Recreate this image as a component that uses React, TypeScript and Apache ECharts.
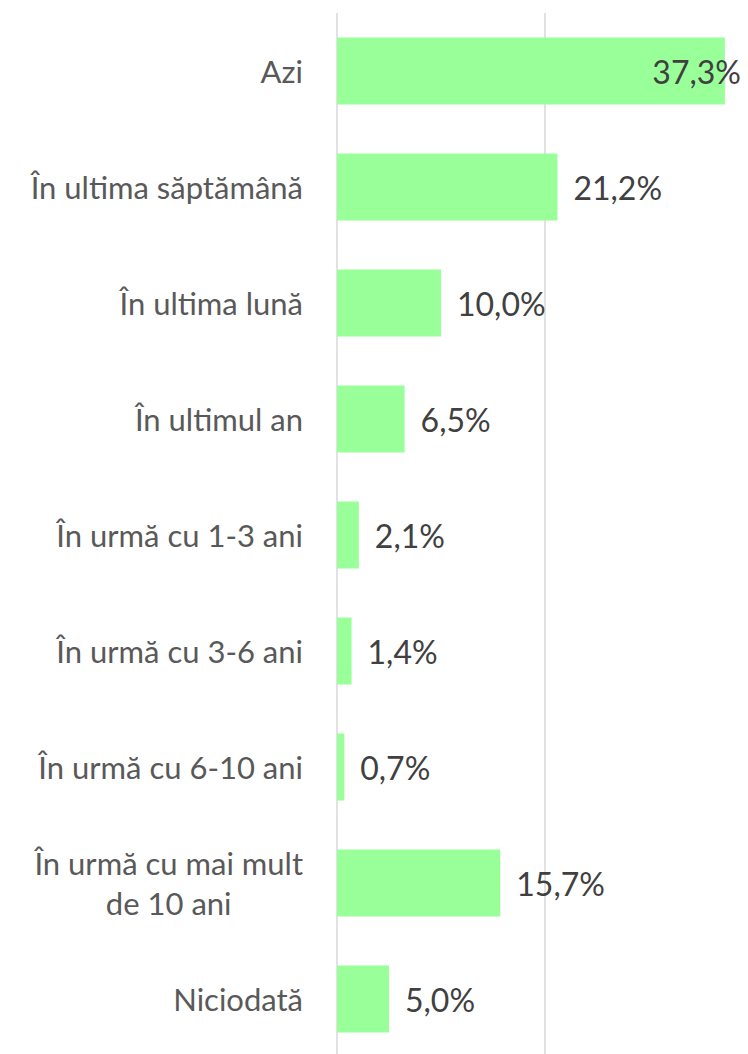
import React, { useEffect, useRef } from "react";
import * as echarts from "echarts";

const categories = [
  "Azi",
  "În ultima săptămână",
  "În ultima lună",
  "În ultimul an",
  "În urmă cu 1-3 ani",
  "În urmă cu 3-6 ani",
  "În urmă cu 6-10 ani",
  "În urmă cu mai mult de 10 ani",
  "Niciodată",
];
const values = [37.3, 21.2, 10.0, 6.5, 2.1, 1.4, 0.7, 15.7, 5.0];
const axisMin = 0;
const axisMax = 40;
const axisStep = 20;

const CAT_FONT = 31;
const VAL_FONT = 32;
const FONT = "Lato, 'Open Sans', sans-serif";

function measure(text: string, size: number): number {
  const c = document.createElement("canvas");
  const ctx = c.getContext("2d");
  if (!ctx) return text.length * size * 0.5;
  ctx.font = `${size}px Lato`;
  return ctx.measureText(text).width;
}

export default function App() {
  const ref = useRef<HTMLDivElement>(null);

  useEffect(() => {
    if (!ref.current) return;
    const chart = echarts.init(ref.current, undefined, { renderer: "svg" });

    const l1 = "În urmă cu mai mult";
    const l2 = "de 10 ani";
    const w1 = measure(l1, CAT_FONT);
    const w2 = measure(l2, CAT_FONT);
    const pad = Math.max(0, (w1 - w2) / 2);

    const data = values.map((v, i) =>
      i === 0
        ? {
            value: v,
            label: { position: "insideRight", distance: 0, offset: [16, 0] },
          }
        : { value: v }
    );

    chart.setOption({
      animation: false,
      grid: { left: 337, top: 13, width: 416, height: 1044, containLabel: false },
      xAxis: {
        type: "value",
        min: axisMin,
        max: axisMax,
        interval: axisStep,
        axisLabel: { show: false },
        axisLine: { show: false },
        axisTick: { show: false },
        splitLine: { show: true, lineStyle: { color: "#d9d9d9", width: 1.5 } },
      },
      yAxis: {
        type: "category",
        inverse: true,
        data: categories,
        axisLine: { show: false },
        axisTick: { show: false },
        axisLabel: {
          margin: 34,
          color: "#595959",
          fontSize: CAT_FONT,
          fontFamily: FONT,
          lineHeight: 40,
          align: "right",
          formatter: (v: string) =>
            v === "În urmă cu mai mult de 10 ani" ? `${l1}\n{b|${l2}}` : v,
          rich: {
            b: {
              fontSize: CAT_FONT,
              fontFamily: FONT,
              color: "#595959",
              lineHeight: 40,
              padding: [0, pad, 0, 0],
            },
          },
        },
      },
      series: [
        {
          type: "bar",
          data,
          barWidth: 67,
          itemStyle: { color: "#99ff99" },
          label: {
            show: true,
            position: "right",
            distance: 16,
            color: "#404040",
            fontSize: VAL_FONT,
            fontFamily: FONT,
            formatter: (p: any) =>
              Number(p.value).toFixed(1).replace(".", ",") + "%",
          },
        },
      ],
    });

    return () => chart.dispose();
  }, []);

  return (
    <div
      style={{
        position: "absolute",
        left: 0,
        top: 0,
        width: 748,
        height: 1054,
        overflow: "hidden",
        background: "#ffffff",
      }}
    >
      <div ref={ref} style={{ width: 780, height: 1080 }} />
    </div>
  );
}
